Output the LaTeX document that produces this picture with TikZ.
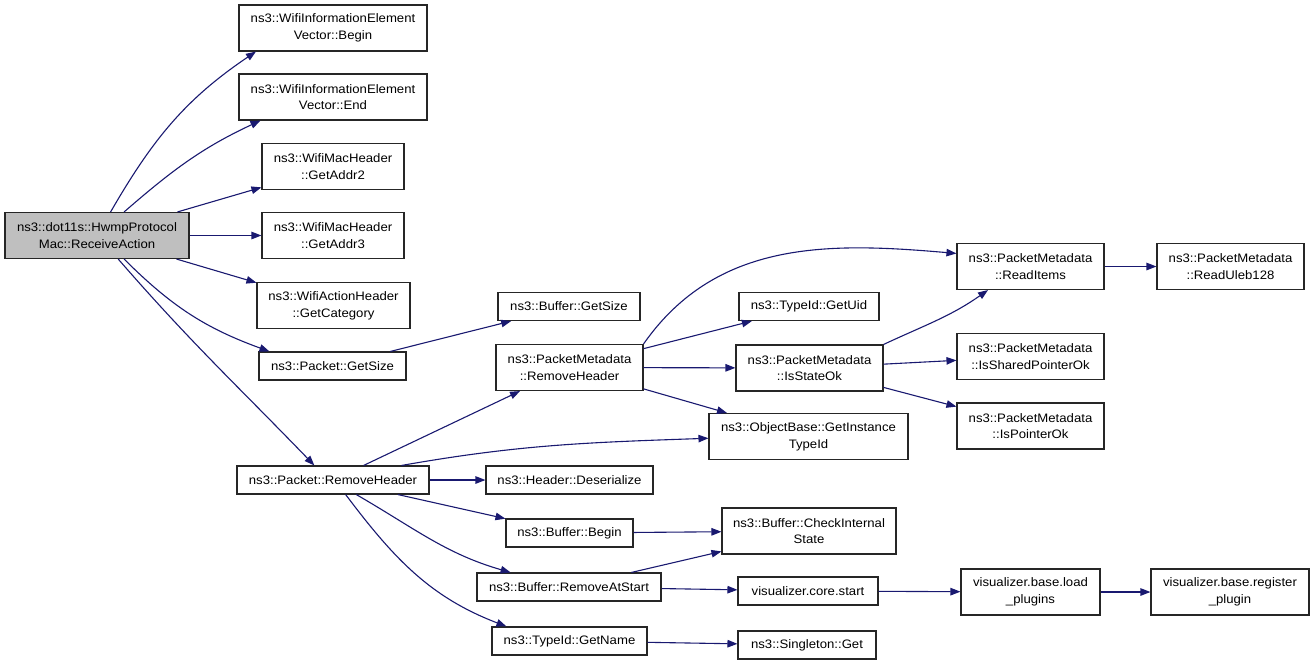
\documentclass[tikz,border=0pt]{standalone}
\usepackage{fontspec}
\setmainfont{Liberation Sans}[FakeStretch=1.07]
\usetikzlibrary{arrows.meta}

\definecolor{callblue}{RGB}{25,25,112}
\definecolor{curgray}{RGB}{191,191,191}

\tikzstyle{fn}=[draw=black!85, line width=1.1pt, align=center, inner sep=2pt,
                minimum height=28pt, font=\fontsize{12.3}{16.7}\selectfont]
\tikzstyle{fn2}=[fn, minimum height=46pt]
\tikzstyle{call}=[draw=callblue, line width=1.1pt,
                  -{Triangle[length=10pt,width=7.5pt]}]

\begin{document}
\begin{tikzpicture}[x=1pt,y=1pt]
    \useasboundingbox (0,0) rectangle (1315,-665);

    % caller
    \node[fn2, fill=curgray, minimum width=184pt] (main) at (97,-235.5)
        {ns3::dot11s::HwmpProtocol\\Mac::ReceiveAction};

    % first column
    \node[fn2, minimum width=188pt] (wieb) at (333,-28)
        {ns3::WifiInformationElement\\Vector::Begin};
    \node[fn2, minimum width=188pt] (wiee) at (333,-97)
        {ns3::WifiInformationElement\\Vector::End};
    \node[fn2, minimum width=142pt] (addr2) at (333,-166.5)
        {ns3::WifiMacHeader\\::GetAddr2};
    \node[fn2, minimum width=142pt] (addr3) at (333,-235.5)
        {ns3::WifiMacHeader\\::GetAddr3};
    \node[fn2, minimum width=153pt] (getcat) at (333.5,-305.5)
        {ns3::WifiActionHeader\\::GetCategory};
    \node[fn, minimum width=147pt] (pktsize) at (332.5,-366)
        {ns3::Packet::GetSize};
    \node[fn, minimum width=192pt] (pktrmh) at (333,-480)
        {ns3::Packet::RemoveHeader};

    % second column
    \node[fn, minimum width=142pt] (bufsize) at (569,-306.5)
        {ns3::Buffer::GetSize};
    \node[fn2, minimum width=147pt] (pmrmh) at (569.5,-367.5)
        {ns3::PacketMetadata\\::RemoveHeader};
    \node[fn, minimum width=167pt] (deser) at (569.5,-480)
        {ns3::Header::Deserialize};
    \node[fn, minimum width=127pt] (bufbeg) at (569.5,-533)
        {ns3::Buffer::Begin};
    \node[fn, minimum width=184pt] (bufras) at (569,-587)
        {ns3::Buffer::RemoveAtStart};
    \node[fn, minimum width=155pt] (getname) at (569.5,-641)
        {ns3::TypeId::GetName};

    % third column
    \node[fn, minimum width=140pt] (getuid) at (809,-306.5)
        {ns3::TypeId::GetUid};
    \node[fn2, minimum width=147pt] (stateok) at (809.5,-368)
        {ns3::PacketMetadata\\::IsStateOk};
    \node[fn2, minimum width=199pt] (insttid) at (808.5,-436.5)
        {ns3::ObjectBase::GetInstance\\TypeId};
    \node[fn2, minimum width=174pt] (chkstate) at (809,-531)
        {ns3::Buffer::CheckInternal\\State};
    \node[fn, minimum width=140pt] (vcstart) at (808,-591)
        {visualizer.core.start};
    \node[fn, minimum width=138pt] (singget) at (807,-645)
        {ns3::Singleton::Get};

    % fourth and fifth column
    \node[fn2, minimum width=147pt] (readitems) at (1030.5,-266.5)
        {ns3::PacketMetadata\\::ReadItems};
    \node[fn2, minimum width=147pt] (sharedok) at (1030.5,-356.5)
        {ns3::PacketMetadata\\::IsSharedPointerOk};
    \node[fn2, minimum width=147pt] (ptrok) at (1030.5,-426)
        {ns3::PacketMetadata\\::IsPointerOk};
    \node[fn2, minimum width=139pt] (loadplug) at (1030.5,-592)
        {visualizer.base.load\\\_plugins};
    \node[fn2, minimum width=147pt] (uleb) at (1230.5,-266.5)
        {ns3::PacketMetadata\\::ReadUleb128};
    \node[fn2, minimum width=158pt] (regplug) at (1230,-592)
        {visualizer.base.register\\\_plugin};

    % calls
    \draw[call] (main.60) to[out=60,in=214] (wieb.197);
    \draw[call] (main.41) to[out=41,in=205] (wiee.198);
    \draw[call] (main) -- (addr2);
    \draw[call] (main) -- (addr3);
    \draw[call] (main) -- (getcat);
    \draw[call] (main.-41) to[out=-45,in=160] (pktsize.167);
    \draw[call] (main.-48) to[out=-49,in=134] (pktrmh.142);

    \draw[call] (pktsize) -- (bufsize);
    \draw[call] (pktrmh) -- (pmrmh);
    \draw[call] (pktrmh.12) to[out=10,in=182] (insttid.181);
    \draw[call] (pktrmh) -- (deser);
    \draw[call] (pktrmh) -- (bufbeg);
    \draw[call] (pktrmh.-32) to[out=-30,in=164] (bufras.166);
    \draw[call] (pktrmh.-49) to[out=-53,in=159] (getname.167);

    \draw[call] (pmrmh.north east) to[out=55,in=175] (readitems.170);
    \draw[call] (pmrmh) -- (getuid);
    \draw[call] (pmrmh) -- (stateok);
    \draw[call] (pmrmh) -- (insttid);

    \draw[call] (stateok.north east) to[out=25,in=215] (readitems.209);
    \draw[call] (stateok) -- (sharedok);
    \draw[call] (stateok) -- (ptrok);
    \draw[call] (readitems) -- (uleb);

    \draw[call] (bufbeg) -- (chkstate);
    \draw[call] (bufras) -- (chkstate);
    \draw[call] (bufras) -- (vcstart);
    \draw[call] (vcstart) -- (loadplug);
    \draw[call] (loadplug) -- (regplug);
    \draw[call] (getname) -- (singget);
\end{tikzpicture}
\end{document}
